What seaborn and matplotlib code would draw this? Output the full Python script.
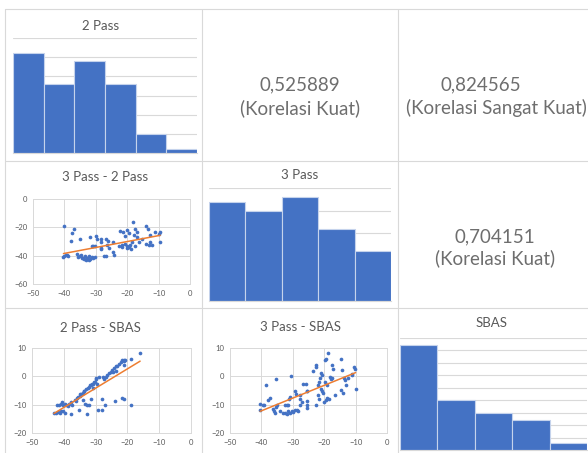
import matplotlib
matplotlib.use('Agg')
import matplotlib.pyplot as plt
from matplotlib.lines import Line2D
import seaborn as sns
import numpy as np

sns.set_style('white')
plt.rcParams['font.family'] = ['Lato', 'DejaVu Sans']

# Warna ala Excel
BLUE = '#4472C4'
ORANGE = '#ED7D31'
GRID = '#D9D9D9'
TXT = '#595959'

# Histogram (jumlah per kelas)
PASS2_COUNTS = [26, 18, 24, 18, 5, 1]
PASS3_COUNTS = [22, 20, 23, 16, 11]
SBAS_COUNTS = [42, 20, 15, 12, 3]

# Scatter 3 Pass (x) - 2 Pass (y)
S1_X = [-40.0, -37.1, -37.6, -37.8, -40.0, -39.6, -39.1, -38.7, -40.3, -35.1,
        -36.0, -35.8, -35.0, -34.5, -34.1, -33.6, -33.0, -32.7, -32.3, -31.7,
        -31.2, -30.8, -30.4, -34.8, -33.5, -32.3, -31.7, -29.8, -29.5, -31.3,
        -30.8, -30.2, -28.5, -28.2, -28.4, -28.2, -26.6, -26.0, -26.3, -25.9,
        -27.3, -26.6, -24.4, -24.4, -24.1, -22.3, -21.3, -20.7, -21.5, -20.8,
        -20.2, -19.6, -19.1, -21.5, -20.1, -19.4, -18.8, -20.0, -19.5, -18.1,
        -17.7, -17.0, -17.4, -16.9, -16.3, -15.3, -13.9, -13.4, -13.9, -13.2,
        -12.6, -12.2, -12.7, -11.1, -10.0, -9.5, -9.7, -18.5, -17.5, -22.5]
S1_Y = [-19.3, -21.0, -23.8, -29.9, -40.0, -39.5, -39.8, -40.0, -41.0, -28.0,
        -39.0, -40.8, -40.3, -41.3, -41.8, -42.5, -43.0, -41.8, -43.3, -42.3,
        -41.0, -41.8, -40.6, -39.2, -40.0, -40.4, -26.8, -26.4, -28.5, -33.2,
        -33.2, -33.2, -28.4, -30.2, -34.5, -35.4, -28.0, -29.9, -32.7, -34.5,
        -40.0, -40.0, -30.4, -37.6, -39.5, -22.8, -23.3, -25.9, -32.6, -31.9,
        -33.1, -33.6, -32.6, -34.2, -34.9, -34.2, -35.4, -22.1, -23.8, -16.2,
        -25.2, -26.8, -21.4, -23.3, -30.4, -28.0, -19.0, -21.4, -31.5, -32.3,
        -30.0, -32.8, -25.6, -23.5, -24.5, -23.3, -30.0, -30.5, -33.2, -33.5]

# Scatter 2 Pass (x) - SBAS (y)
S2_X = [-43.1, -42.3, -41.8, -41.3, -40.8, -40.2, -39.7, -42.0, -41.4, -41.0,
        -40.5, -40.2, -39.7, -39.2, -38.7, -37.6, -37.6, -37.4, -36.5, -36.0,
        -35.5, -35.0, -34.5, -34.0, -33.5, -33.0, -32.5, -32.0, -31.5, -31.0,
        -30.5, -30.0, -35.2, -32.8, -33.4, -32.6, -32.0, -31.4, -30.2, -29.6,
        -29.1, -28.1, -28.1, -27.0, -28.8, -27.8, -27.3, -26.8, -26.3, -25.8,
        -25.3, -24.7, -24.2, -23.7, -23.2, -22.7, -22.1, -21.6, -21.1, -20.8,
        -21.1, -21.1, -18.9, -16.0, -23.9, -21.8, -21.1, -18.8, -34.8, -33.8,
        -31.8, -30.8, -29.8, -24.5, -23.5, -36.2, -38.5, -34.0, -30.8]
S2_Y = [-12.9, -13.1, -12.6, -12.8, -12.4, -12.1, -12.9, -10.0, -10.2, -9.6,
        -9.0, -10.0, -9.6, -10.2, -10.4, -13.2, -9.0, -10.2, -8.4, -7.8,
        -7.2, -6.9, -6.1, -5.8, -5.2, -4.6, -4.1, -3.8, -3.2, -2.6,
        -2.0, -0.8, -12.0, -13.2, -9.6, -10.2, -10.0, -8.0, -2.0, -2.6,
        -12.0, -12.0, -8.1, -10.0, -0.2, -0.2, -0.8, -0.2, 0.6, 1.3,
        1.7, 2.3, 2.9, 3.5, 3.7, 4.4, 4.9, 5.6, 5.8, 5.6,
        5.3, 4.1, 6.2, 8.2, -8.8, -7.6, -7.9, -10.0, -6.4, -5.0,
        -3.2, -2.6, -0.5, 1.5, 2.0, -8.8, -9.8, -8.5, -4.2]

# Scatter 3 Pass (x) - SBAS (y)
S3_X = [-40.4, -40.4, -39.6, -39.1, -38.6, -37.8, -37.3, -36.4, -36.0, -35.7,
        -35.4, -34.9, -35.4, -34.0, -33.2, -32.4, -31.9, -31.4, -30.8, -30.3,
        -29.8, -29.3, -28.8, -28.2, -32.5, -32.0, -31.5, -31.2, -31.0, -30.6,
        -29.3, -29.0, -27.8, -27.6, -27.2, -27.6, -26.7, -25.8, -25.6, -25.4,
        -25.4, -25.4, -25.4, -23.5, -22.7, -22.7, -22.5, -22.0, -21.5, -21.2,
        -22.0, -21.7, -20.9, -20.6, -20.9, -20.6, -20.3, -20.0, -19.4, -19.0,
        -18.4, -19.7, -19.4, -19.7, -19.2, -18.8, -18.0, -17.7, -17.4, -17.4,
        -17.2, -16.6, -14.5, -14.2, -14.5, -13.9, -13.7, -13.4, -12.9, -12.4,
        -11.3, -11.0, -10.6, -10.2, -10.0]
S3_Y = [-9.6, -12.0, -10.2, -10.0, -2.9, -8.5, -7.6, -11.6, -12.3, -12.9,
        -10.8, -10.2, -0.8, -12.4, -13.0, -13.0, -13.2, -12.4, -12.9, -12.4,
        -12.6, -12.0, -12.0, -12.1, -10.0, -10.0, -10.0, -7.9, -7.3, 0.0,
        -5.3, -6.1, -6.7, -7.9, -9.1, -10.0, -2.8, -2.8, -5.3, -5.0,
        -8.8, -10.0, -11.2, 2.0, 4.1, 3.3, -10.0, -2.9, -2.0, -0.6,
        -6.7, -7.9, 1.2, 0.4, -4.4, -5.3, -5.8, -9.1, -8.5, -7.6,
        -8.1, 5.6, 6.2, -2.0, -3.2, 8.2, -0.2, -0.8, -0.6, 3.9,
        2.5, -6.5, 6.2, 2.1, -4.9, -5.8, -0.6, -1.4, -3.2, -0.6,
        0.9, 0.4, 3.3, 2.7, -4.4]

# Teks korelasi
CORR_TEXT = {
    (0, 1): ('0,525889', '(Korelasi Kuat)'),
    (0, 2): ('0,824565', '(Korelasi Sangat Kuat)'),
    (1, 2): ('0,704151', '(Korelasi Kuat)'),
}

W, H = 588, 453
fig = plt.figure(figsize=(W / 100, H / 100), dpi=100)
fig.patch.set_facecolor('white')


def px_axes(x0, y0, x1, y1):
    """Axes dari koordinat piksel (atas-kiri)"""
    return fig.add_axes([x0 / W, 1 - y1 / H, (x1 - x0) / W, (y1 - y0) / H])


def px_text(x, y, s, size, color=TXT):
    fig.text(x / W, 1 - y / H, s, fontsize=size, color=color,
             ha='center', va='center')


def draw_hist(ax, counts, ymax, step):
    bins = [str(i) for i in range(len(counts))]
    sns.barplot(x=bins, y=counts, ax=ax, color=BLUE, saturation=1,
                width=1.0, edgecolor='#C5D3EC', linewidth=0.8)
    ax.set_xlim(-0.5, len(counts) - 0.5)
    ax.set_ylim(0, ymax)
    ax.set_yticks(np.arange(0, ymax + 1, step))
    ax.yaxis.grid(True, color=GRID, lw=0.8)
    ax.set_axisbelow(True)
    ax.tick_params(labelleft=False, labelbottom=False, length=0)
    for side in ['top', 'left', 'right']:
        ax.spines[side].set_visible(False)
    ax.spines['bottom'].set_color(GRID)
    ax.set_xlabel('')
    ax.set_ylabel('')


def draw_scatter(ax, x, y, ylim, ystep):
    sns.regplot(x=x, y=y, ax=ax, ci=None, truncate=True,
                scatter_kws=dict(s=7, color=BLUE, linewidths=0, alpha=1),
                line_kws=dict(color=ORANGE, lw=1.1))
    ax.set_xlim(-50, 0)
    ax.set_ylim(*ylim)
    ax.set_xticks(np.arange(-50, 1, 10))
    ax.set_yticks(np.arange(ylim[0], ylim[1] + 1, ystep))
    ax.grid(True, color=GRID, lw=0.7)
    ax.set_axisbelow(True)
    ax.tick_params(labelsize=5.5, colors=TXT, length=0, pad=4)
    for s in ax.spines.values():
        s.set_color(GRID)
        s.set_linewidth(0.7)


# garis batas sel
for xv in [5, 202, 398]:
    fig.add_artist(Line2D([xv / W, xv / W], [0, 1 - 9 / H], color=GRID, lw=0.8))
for yv in [9, 161, 308]:
    fig.add_artist(Line2D([5 / W, 1], [1 - yv / H, 1 - yv / H], color=GRID, lw=0.8))

# histogram
ax = px_axes(13, 38, 197, 153)
draw_hist(ax, PASS2_COUNTS, 30, 5)
px_text(101, 26, '2 Pass', 9.5)

ax = px_axes(209, 188, 391, 301)
draw_hist(ax, PASS3_COUNTS, 25, 5)
px_text(300, 175, '3 Pass', 9.5)

ax = px_axes(400, 338, 587, 450)
draw_hist(ax, SBAS_COUNTS, 45, 5)
px_text(492, 323, 'SBAS', 9.5)

# scatter
ax = px_axes(33, 199, 190, 284)
draw_scatter(ax, S1_X, S1_Y, (-60, 0), 20)
px_text(105, 177, '3 Pass - 2 Pass', 9.5)

ax = px_axes(32, 348, 191, 433)
draw_scatter(ax, S2_X, S2_Y, (-20, 10), 10)
px_text(100, 328, '2 Pass - SBAS', 9.5)

ax = px_axes(230, 348, 387, 433)
draw_scatter(ax, S3_X, S3_Y, (-20, 10), 10)
px_text(300, 327, '3 Pass - SBAS', 9.5)

# teks korelasi
CORR_COLOR = '#6E6E6E'
px_text(300, 85, CORR_TEXT[(0, 1)][0], 13.5, CORR_COLOR)
px_text(300, 108, CORR_TEXT[(0, 1)][1], 13.5, CORR_COLOR)
px_text(481, 85, CORR_TEXT[(0, 2)][0], 13.5, CORR_COLOR)
px_text(496, 108, CORR_TEXT[(0, 2)][1], 13.5, CORR_COLOR)
px_text(495, 237, CORR_TEXT[(1, 2)][0], 13.5, CORR_COLOR)
px_text(495, 258, CORR_TEXT[(1, 2)][1], 13.5, CORR_COLOR)

fig.savefig('out.png', dpi=100)
plt.close(fig)
